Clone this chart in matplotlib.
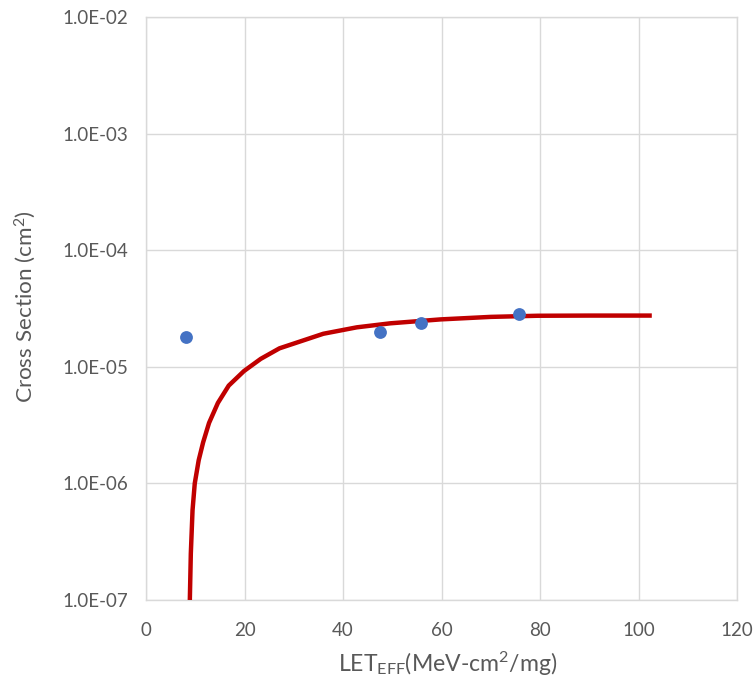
import math
import matplotlib
matplotlib.use("Agg")
import matplotlib.pyplot as plt
from matplotlib.ticker import FixedLocator, FuncFormatter, NullLocator

# Measured data points
let_pts = [8.2, 47.6, 55.8, 75.8]
xs_pts = [1.81e-5, 1.97e-5, 2.36e-5, 2.86e-5]

# Fit curve, points
fit_let = [8.9, 9.1, 9.45, 9.9, 10.7, 11.6, 12.8, 14.6, 16.8, 19.9, 23.3,
           27.1, 32.6, 36.0, 42.8, 49.6, 59.8, 70.0, 79.5, 90.0, 102.7]
fit_xs = [1.0e-7, 2.5e-7, 5.9e-7, 1.0e-6, 1.58e-6, 2.25e-6, 3.3e-6, 4.9e-6,
          6.9e-6, 9.2e-6, 1.17e-5, 1.44e-5, 1.72e-5, 1.92e-5, 2.18e-5, 2.36e-5,
          2.55e-5, 2.68e-5, 2.74e-5, 2.75e-5, 2.75e-5]

x_ticks = [0, 20, 40, 60, 80, 100, 120]
y_ticks = [1e-7, 1e-6, 1e-5, 1e-4, 1e-3, 1e-2]

plt.rcParams['font.family'] = ['Lato', 'DejaVu Sans']
plt.rcParams['mathtext.default'] = 'regular'

W, H = 753, 679
fig = plt.figure(figsize=(W / 100, H / 100), dpi=100)
ax = fig.add_axes([146 / W, 1 - 600 / H, (737 - 146) / W, (600 - 17) / H])

ax.plot(fit_let, fit_xs, color='#C00000', lw=3.2, solid_joinstyle='round',
        solid_capstyle='butt', zorder=3)
ax.scatter(let_pts, xs_pts, s=85, color='#4472C4', zorder=4, linewidths=0)

ax.set_yscale('log')
ax.set_xlim(0, 120)
ax.set_ylim(1e-7, 1e-2)
ax.xaxis.set_major_locator(FixedLocator(x_ticks))
ax.yaxis.set_major_locator(FixedLocator(y_ticks))
ax.yaxis.set_minor_locator(NullLocator())


def fmt(v, pos):
    e = int(round(math.log10(v)))
    return "1.0E-%02d" % (-e) if e < 0 else "1.0E+%02d" % e


ax.yaxis.set_major_formatter(FuncFormatter(fmt))
ax.tick_params(length=0, labelsize=13.5, colors='#595959')
ax.tick_params(axis='y', pad=13)
ax.tick_params(axis='x', pad=16)
ax.grid(True, color='#D9D9D9', lw=1)
ax.set_axisbelow(True)
for s in ax.spines.values():
    s.set_color('#D9D9D9')
    s.set_linewidth(1)

xl = fig.text(448 / W, 1 - 664 / H, r'LET$_{EFF}$(MeV-cm$^{2}$/mg)', fontsize=16,
              color='#595959', ha='center', va='center')
yl = fig.text(25 / W, 1 - 307 / H, r'Cross Section (cm$^{2}$)', fontsize=16,
              color='#595959', ha='center', va='center', rotation=90)

# scale label fonts to match the reference pixel lengths
r = fig.canvas.get_renderer()
wx = xl.get_window_extent(r).width
xl.set_fontsize(16 * 220 / wx)
hy = yl.get_window_extent(r).height
yl.set_fontsize(16 * 193 / hy)

fig.savefig('out.png', dpi=100)
